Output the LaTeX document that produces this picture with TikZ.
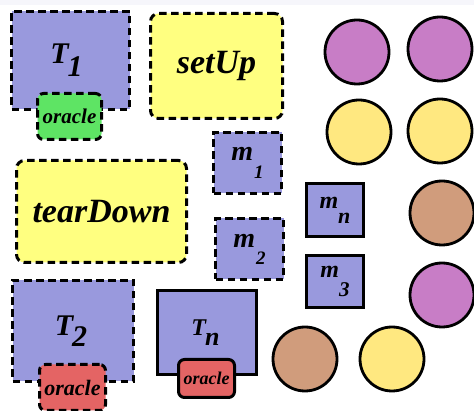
\documentclass[tikz,border=0pt]{standalone}
\usepackage{fontspec}
\setmainfont{Liberation Serif}
\definecolor{boxblue}{RGB}{153,153,221}
\definecolor{boxyellow}{RGB}{255,255,128}
\definecolor{orgreen}{RGB}{94,228,100}
\definecolor{orred}{RGB}{228,100,100}
\definecolor{cpurple}{RGB}{200,125,198}
\definecolor{cyellow}{RGB}{255,232,128}
\definecolor{cbrown}{RGB}{208,156,124}
\definecolor{topstrip}{RGB}{246,246,251}
\tikzset{
  edge/.style={draw=black, line width=3pt},
  dashedge/.style={dash pattern=on 7.5pt off 4.5pt},
  task/.style={edge, fill=boxblue, inner sep=0pt, anchor=north west, font=\bfseries\itshape},
  hook/.style={edge, fill=boxyellow, rounded corners=8pt, inner sep=0pt, anchor=north west, font=\bfseries\itshape},
  oracle/.style={edge, rounded corners=6pt, inner sep=0pt, anchor=north west, font=\bfseries\itshape},
  token/.style={circle, edge, line width=2.8pt, minimum size=64pt, inner sep=0pt},
}
% name with a dropped subscript: main size, main text, sub size, sub text, kern, drop
\newcommand{\lbl}[6]{{\fontsize{#1}{#1}\selectfont #2}\kern#5\raisebox{-#6}{\fontsize{#3}{#3}\selectfont #4}}
\begin{document}
\begin{tikzpicture}[x=1pt, y=-1pt]
\useasboundingbox (0,0) rectangle (474,411);
\fill[topstrip] (0,0) rectangle (474,5);
% test cases with their oracles
\node[task, dashedge, minimum width=118pt, minimum height=98pt] (t1) at (10,10)
  {\lbl{30}{T}{30}{1}{-1pt}{13pt}\kern8pt};
\node[oracle, dashedge, fill=orgreen, minimum width=64pt, minimum height=46pt] (o1) at (36,92) {\fontsize{21}{21}\selectfont oracle};
\node[task, dashedge, minimum width=121pt, minimum height=101pt] (t2) at (11,279)
  {\lbl{30}{T}{30}{2}{-1pt}{11pt}\kern4pt};
\node[oracle, dashedge, fill=orred, minimum width=66pt, minimum height=46pt] (o2) at (38,363) {\fontsize{22}{22}\selectfont oracle};
\node[task, minimum width=99pt, minimum height=84pt] (tn) at (156,289)
  {\raisebox{8pt}{\lbl{24}{T}{26}{n}{-1pt}{10pt}}\kern3pt};
\node[oracle, fill=orred, minimum width=56pt, minimum height=38pt] (on) at (177,358) {\fontsize{18}{18}\selectfont oracle};
% fixture hooks
\node[hook, dashedge, minimum width=132pt, minimum height=105pt] (setup) at (149,12) {\fontsize{34}{34}\selectfont setUp};
\node[hook, dashedge, minimum width=170pt, minimum height=102pt] (teardown) at (15,159) {\fontsize{34}{34}\selectfont tearDown};
% methods
\node[task, dashedge, minimum width=68pt, minimum height=61pt] (m1) at (212,131) {\lbl{28}{m}{19}{1}{1pt}{18pt}};
\node[task, dashedge, minimum width=68pt, minimum height=61pt] (m2) at (214,217) {\lbl{28}{m}{19}{2}{1pt}{17pt}};
\node[task, minimum width=57pt, minimum height=53pt] (mn) at (305,182) {\lbl{24}{m}{22}{n}{0pt}{15pt}};
\node[task, minimum width=57pt, minimum height=52pt] (m3) at (305,254) {\lbl{24}{m}{21}{3}{0pt}{19pt}};
% tokens
\node[token, fill=cpurple] (p1) at (357,52) {};
\node[token, fill=cpurple] (p2) at (440,49) {};
\node[token, fill=cyellow] (y1) at (359,132) {};
\node[token, fill=cyellow] (y2) at (440,131) {};
\node[token, fill=cbrown] (b1) at (442,213) {};
\node[token, fill=cpurple] (p3) at (442,295) {};
\node[token, fill=cbrown] (b2) at (305,359) {};
\node[token, fill=cyellow] (y3) at (392,359) {};
\end{tikzpicture}
\end{document}
